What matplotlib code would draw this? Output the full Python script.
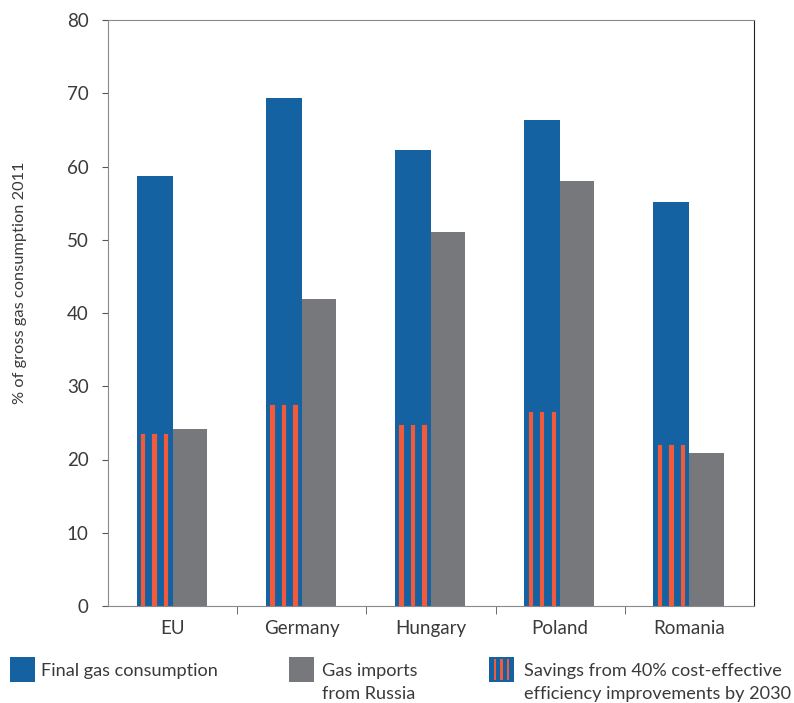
import numpy as np
import matplotlib.pyplot as plt
from matplotlib.patches import Rectangle

# Data
countries = ["EU", "Germany", "Hungary", "Poland", "Romania"]
final_cons = [58.7, 69.3, 62.2, 66.4, 55.1]
imports_ru = [24.2, 41.9, 51.0, 58.0, 20.9]
savings = [23.6, 27.6, 24.8, 26.6, 22.1]

BLUE, GREY, RED = "#1462a2", "#76787b", "#f15a3a"
TXT = "#3a3a3a"
plt.rcParams['font.family'] = ['Lato', 'DejaVu Sans']

W, H = 794, 703
fig = plt.figure(figsize=(W/100, H/100), dpi=100)
ax = fig.add_axes([108/W, 1 - 606/H, 646/W, 586/H])

x = np.arange(len(countries))
wb, wg = 0.278, 0.264
ax.bar(x - wb/2, final_cons, wb, color=BLUE, zorder=2)
ax.bar(x + wg/2, imports_ru, wg, color=GREY, zorder=2)

# Striped savings inside the blue bars
sw = 0.042
for off in (0.047, 0.135, 0.224):
    ax.bar(x - wb + off, savings, sw, color=RED, edgecolor=BLUE,
           linewidth=0.6, zorder=3)

ax.set_xlim(-0.5, 4.5)
ax.set_ylim(0, 80)
ax.set_yticks(np.arange(0, 81, 10))
ax.set_xticks(x)
ax.set_xticklabels(countries, fontsize=13.5, color=TXT)
ax.set_xticks(np.arange(0.5, 4.0, 1), minor=True)
ax.tick_params(axis='x', which='major', length=0, pad=10)
ax.tick_params(axis='x', which='minor', length=6, color="#555555")
ax.tick_params(axis='y', length=4, color="#555555", labelsize=13.5,
               labelcolor=TXT, pad=10)
for side in ("left", "top", "bottom"):
    ax.spines[side].set_color("#8a8a8a")
ax.spines["right"].set_color("#222222")
ax.set_ylabel("% of gross gas consumption 2011", fontsize=11.8, color=TXT)
ax.yaxis.set_label_coords(-81/646, 0.551)

# Legend drawn on the figure
def swatch(x0, kind):
    y0, s = 1 - 682/H, 25
    fc = GREY if kind == "grey" else BLUE
    fig.add_artist(Rectangle((x0/W, y0), s/W, s/H, transform=fig.transFigure,
                             facecolor=fc, edgecolor="none"))
    if kind == "stripe":
        for cx in (6, 12.5, 19):
            fig.add_artist(Rectangle(((x0 + cx - 1.2)/W, y0 + 2/H),
                                     2.4/W, (s - 4)/H,
                                     transform=fig.transFigure,
                                     facecolor=RED, edgecolor="none"))

swatch(10, "blue")
swatch(289, "grey")
swatch(489, "stripe")
leg = dict(fontsize=13.1, color=TXT, va="center")
fig.text(41/W, 1 - 671/H, "Final gas consumption", **leg)
fig.text(322/W, 1 - 671/H, "Gas imports", **leg)
fig.text(322/W, 1 - 694/H, "from Russia", **leg)
fig.text(524/W, 1 - 671/H, "Savings from 40% cost-effective", **leg)
fig.text(524/W, 1 - 694/H, "efficiency improvements by 2030", **leg)

plt.savefig("out.png", dpi=100)
